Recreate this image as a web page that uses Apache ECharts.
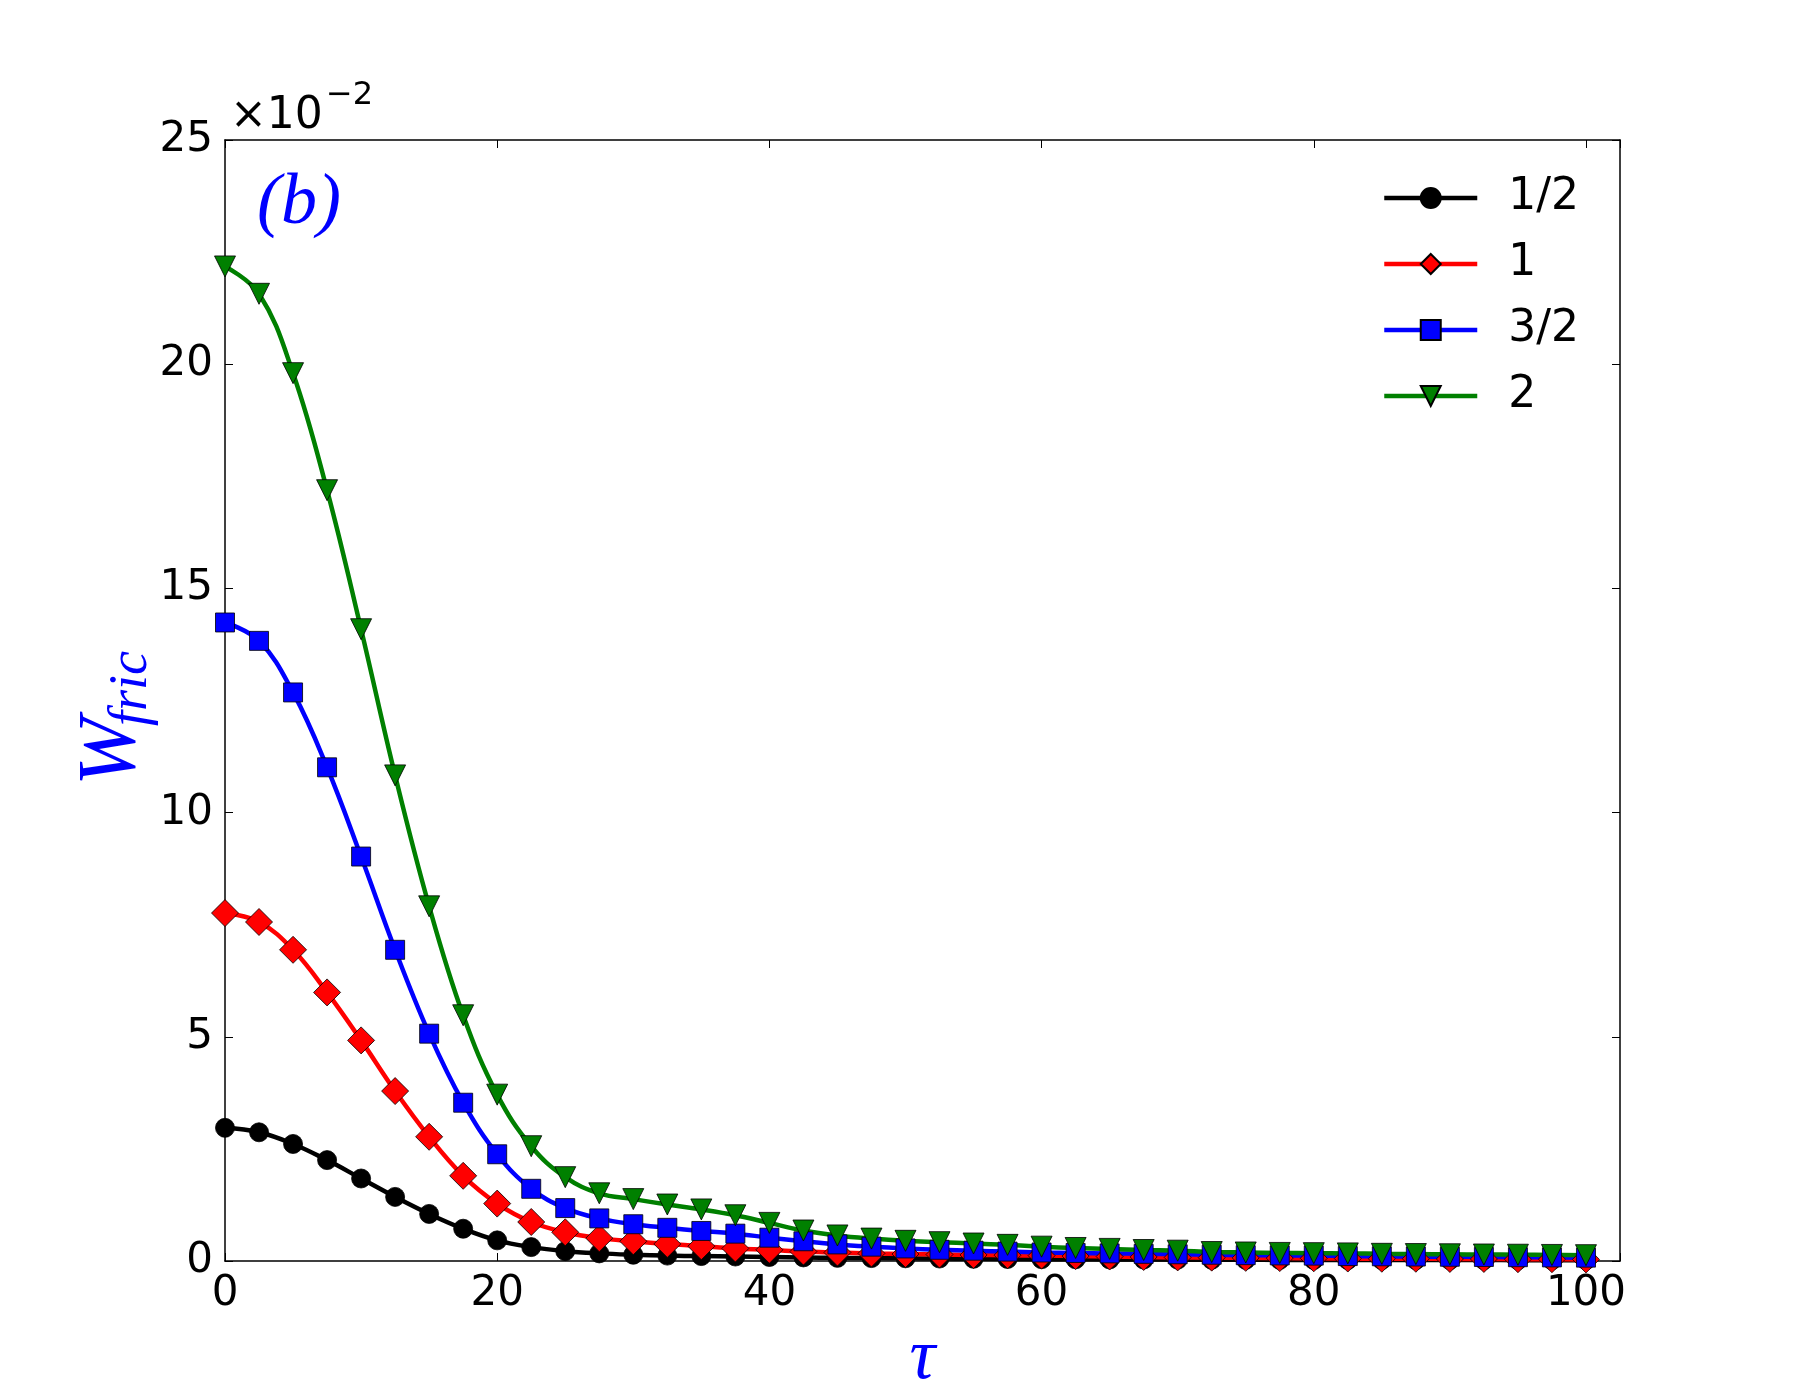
<!DOCTYPE html>
<html>
<head>
<meta charset="utf-8">
<script src="https://cdn.jsdelivr.net/npm/echarts@6/dist/echarts.min.js"></script>
<style>
html,body{margin:0;padding:0;background:#fff;}
#chart{width:1800px;height:1400px;}
</style>
</head>
<body>
<div id="chart"></div>
<script>
// tau values
const tau = [0,2.5,5,7.5,10,12.5,15,17.5,20,22.5,25,27.5,30,32.5,35,37.5,40,42.5,45,47.5,50,52.5,55,57.5,60,62.5,65,67.5,70,72.5,75,77.5,80,82.5,85,87.5,90,92.5,95,97.5,100];
// W_fric values (in units of 1e-2)
const wHalf = [2.97,2.87,2.61,2.25,1.84,1.43,1.05,0.72,0.46,0.31,0.22,0.17,0.14,0.12,0.11,0.10,0.09,0.08,0.07,0.065,0.06,0.055,0.05,0.045,0.04,0.038,0.035,0.033,0.03,0.028,0.026,0.025,0.024,0.023,0.022,0.021,0.02,0.02,0.019,0.018,0.018];
const wOne = [7.76,7.56,6.94,5.99,4.92,3.79,2.77,1.90,1.28,0.87,0.64,0.51,0.44,0.38,0.33,0.28,0.25,0.21,0.19,0.17,0.155,0.145,0.135,0.13,0.12,0.11,0.10,0.09,0.08,0.075,0.07,0.065,0.06,0.055,0.05,0.05,0.045,0.045,0.04,0.04,0.035];
const wThreeHalves = [14.24,13.83,12.68,11.01,9.02,6.94,5.07,3.53,2.38,1.61,1.18,0.95,0.82,0.74,0.67,0.61,0.52,0.44,0.37,0.32,0.28,0.25,0.23,0.21,0.19,0.18,0.17,0.16,0.15,0.14,0.13,0.125,0.12,0.11,0.105,0.10,0.095,0.09,0.085,0.08,0.075];
const wTwo = [22.18,21.57,19.80,17.19,14.09,10.83,7.91,5.48,3.71,2.56,1.87,1.51,1.38,1.26,1.15,1.02,0.85,0.68,0.57,0.50,0.45,0.42,0.39,0.36,0.32,0.29,0.27,0.245,0.23,0.20,0.19,0.18,0.175,0.17,0.16,0.155,0.15,0.145,0.14,0.135,0.13];
const seriesNames = ['1/2','1','3/2','2'];
const xTicks = [0,20,40,60,80,100];
const yTicks = [0,5,10,15,20,25];

function pairs(ys){ return tau.map((t,i)=>[t, ys[i]]); }

const chart = echarts.init(document.getElementById('chart'), null, {renderer:'canvas'});

const tickFont = {fontFamily:'DejaVu Sans', fontSize:42, color:'#000'};
function mk(name, data, color, symbol, size, rotate){
  return {
    name, type:'line', data: pairs(data), smooth:0.4,
    symbol, symbolSize:size, symbolRotate: rotate||0, showAllSymbol:true,
    lineStyle:{color:color, width:4.5},
    itemStyle:{color:color, borderColor:'#000', borderWidth:0.8},
    emphasis:{disabled:true}, animation:false, z:2
  };
}

const option = {
  animation:false,
  backgroundColor:'#fff',
  grid:{left:225, right:180, top:140, bottom:130, containLabel:false},
  xAxis:[{
    type:'value', min:0, max:102.5, interval:20, position:'bottom',
    axisLine:{show:true, onZero:false, lineStyle:{color:'#000', width:1.5}},
    axisTick:{show:true, inside:true, length:8, lineStyle:{color:'#000', width:1}},
    axisLabel:{...tickFont, margin:12, formatter:v=> xTicks.includes(v)? String(v):''},
    splitLine:{show:false},
    name:'τ', nameLocation:'middle', nameGap:62,
    nameTextStyle:{color:'#0000ff', fontFamily:'Liberation Serif', fontStyle:'italic', fontSize:72}
  },{
    type:'value', min:0, max:102.5, interval:20, position:'top',
    axisLine:{show:true, onZero:false, lineStyle:{color:'#000', width:1.5}},
    axisTick:{show:true, inside:true, length:8, lineStyle:{color:'#000', width:1}},
    axisLabel:{show:false}, splitLine:{show:false}
  }],
  yAxis:[{
    type:'value', min:0, max:25, interval:5, position:'left',
    axisLine:{show:true, onZero:false, lineStyle:{color:'#000', width:1.5}},
    axisTick:{show:true, inside:true, length:8, lineStyle:{color:'#000', width:1}},
    axisLabel:{...tickFont, margin:12, formatter:v=> yTicks.includes(v)? String(v):''},
    splitLine:{show:false}
  },{
    type:'value', min:0, max:25, interval:5, position:'right',
    axisLine:{show:true, onZero:false, lineStyle:{color:'#000', width:1.5}},
    axisTick:{show:true, inside:true, length:8, lineStyle:{color:'#000', width:1}},
    axisLabel:{show:false}, splitLine:{show:false}
  }],
  legend:{
    orient:'vertical', left:1382, top:176, padding:0,
    itemWidth:93, itemHeight:25, itemGap:22,
    lineStyle:{width:4.5},
    textStyle:{fontFamily:'DejaVu Sans', fontSize:44, color:'#000', lineHeight:44, padding:[0,0,0,26]},
    data: seriesNames
  },
  series:[
    mk(seriesNames[0], wHalf, '#000000', 'circle', 19),
    mk(seriesNames[1], wOne, '#ff0000', 'diamond', 27),
    mk(seriesNames[2], wThreeHalves, '#0000ff', 'rect', 19),
    mk(seriesNames[3], wTwo, '#008000', 'triangle', 21, 180)
  ],
  graphic:[
    {type:'text', left:230, top:95, style:{text:'×10', fontFamily:'DejaVu Sans', fontSize:44, fill:'#000'}},
    {type:'text', left:326, top:80, style:{text:'−2', fontFamily:'DejaVu Sans', fontSize:32, fill:'#000'}},
    {type:'text', left:257, top:168, style:{text:'(b)', fontFamily:'Liberation Serif', fontStyle:'italic', fontSize:72, fill:'#0000ff'}},
    {type:'group', x:137, y:786, rotation:Math.PI/2, children:[
      {type:'text', x:0, y:0, style:{text:'W', fontFamily:'Liberation Serif', fontStyle:'italic', fontSize:82, fill:'#0000ff', verticalAlign:'bottom', y:16}},
      {type:'text', x:60, y:0, style:{text:'fric', fontFamily:'Liberation Serif', fontStyle:'italic', fontSize:54, fill:'#0000ff', verticalAlign:'bottom', y:22}}
    ]}
  ]
};
chart.setOption(option);
</script>
</body>
</html>
